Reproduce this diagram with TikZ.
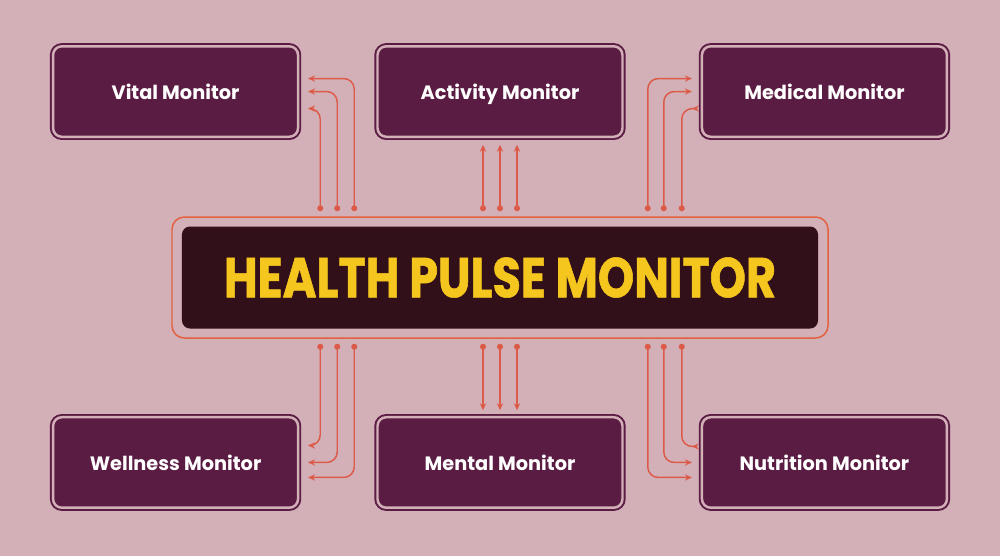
\documentclass[tikz,border=0pt]{standalone}
\usepackage{fontspec}
\setmainfont{Poppins}
\newfontfamily\titlefont{Poppins}[FakeStretch=0.82, FakeBold=1]
\usetikzlibrary{positioning,calc,arrows.meta}

\definecolor{backpink}{HTML}{D3B0B8}
\definecolor{boxplum}{HTML}{5A1C42}
\definecolor{hubdark}{HTML}{321019}
\definecolor{titlegold}{HTML}{F5C61E}
\definecolor{linkred}{HTML}{DC5A48}
\definecolor{frameorange}{HTML}{E2613F}

\tikzset{
  monbox/.style={rectangle, rounded corners=5pt, draw=boxplum, fill=boxplum,
    line width=1.1pt, double=backpink, double distance=1.4pt,
    minimum width=49mm, minimum height=18.1mm,
    text height=9.2pt, text depth=0pt,
    text=white, font=\bfseries\fontsize{11}{13}\selectfont},
  hubframe/.style={rectangle, rounded corners=7pt, draw=frameorange, line width=0.85pt,
    minimum width=131.2mm, minimum height=24.2mm},
  hubfill/.style={rectangle, rounded corners=4.5pt, fill=hubdark,
    minimum width=127.2mm, minimum height=20.4mm,
    text=titlegold, font=\titlefont\bfseries\fontsize{32}{36}\selectfont},
  link/.style={draw=linkred, line width=0.85pt, rounded corners=6pt,
    {Circle[length=3.4pt]}-{Stealth[length=4pt,width=3.6pt]}}
}

\begin{document}
\begin{tikzpicture}[x=0.2mm, y=-0.2mm]
  \fill[backpink] (0,0) rectangle (1000,556);
  \useasboundingbox (0,0) rectangle (1000,556);

  % centre
  \node[hubframe] (frame) at (500,277.5) {};
  \node[hubfill] (hub) at (frame.center) {HEALTH PULSE MONITOR};

  % monitors
  \node[monbox, above=15.7mm of frame] (activity) {Activity Monitor};
  \node[monbox, left=15.5mm of activity] (vital) {Vital Monitor};
  \node[monbox, right=15.5mm of activity] (medical) {Medical Monitor};
  \node[monbox, below=15.5mm of frame] (mental) {Mental Monitor};
  \node[monbox, left=15.5mm of mental] (wellness) {Wellness Monitor};
  \node[monbox, right=15.5mm of mental] (nutrition) {Nutrition Monitor};

  % top links
  \draw[link] ($(frame.north west)+(149,-5)$) |- ($(vital.east)+(9,17)$);
  \draw[link] ($(frame.north west)+(166,-5)$) |- ($(vital.east)+(9,0)$);
  \draw[link] ($(frame.north west)+(183,-5)$) |- ($(vital.east)+(9,-13)$);
  \foreach \dx in {-17,0,17}
    \draw[link] ($(frame.north)+(\dx,-5)$) -- ($(activity.south)+(\dx,7)$);
  \draw[link] ($(frame.north east)+(-181,-5)$) |- ($(medical.west)+(-9,-13)$);
  \draw[link] ($(frame.north east)+(-165,-5)$) |- ($(medical.west)+(-9,0)$);
  \draw[link] ($(frame.north east)+(-147,-5)$) |- ($(medical.west)+(-9,17)$);

  % bottom links
  \draw[link] ($(frame.south west)+(149,5)$) |- ($(wellness.east)+(9,-17)$);
  \draw[link] ($(frame.south west)+(166,5)$) |- ($(wellness.east)+(9,0)$);
  \draw[link] ($(frame.south west)+(183,5)$) |- ($(wellness.east)+(9,15)$);
  \foreach \dx in {-17,0,17}
    \draw[link] ($(frame.south)+(\dx,5)$) -- ($(mental.north)+(\dx,-6)$);
  \draw[link] ($(frame.south east)+(-181,5)$) |- ($(nutrition.west)+(-9,15)$);
  \draw[link] ($(frame.south east)+(-165,5)$) |- ($(nutrition.west)+(-9,0)$);
  \draw[link] ($(frame.south east)+(-147,5)$) |- ($(nutrition.west)+(-9,-16)$);
\end{tikzpicture}
\end{document}
